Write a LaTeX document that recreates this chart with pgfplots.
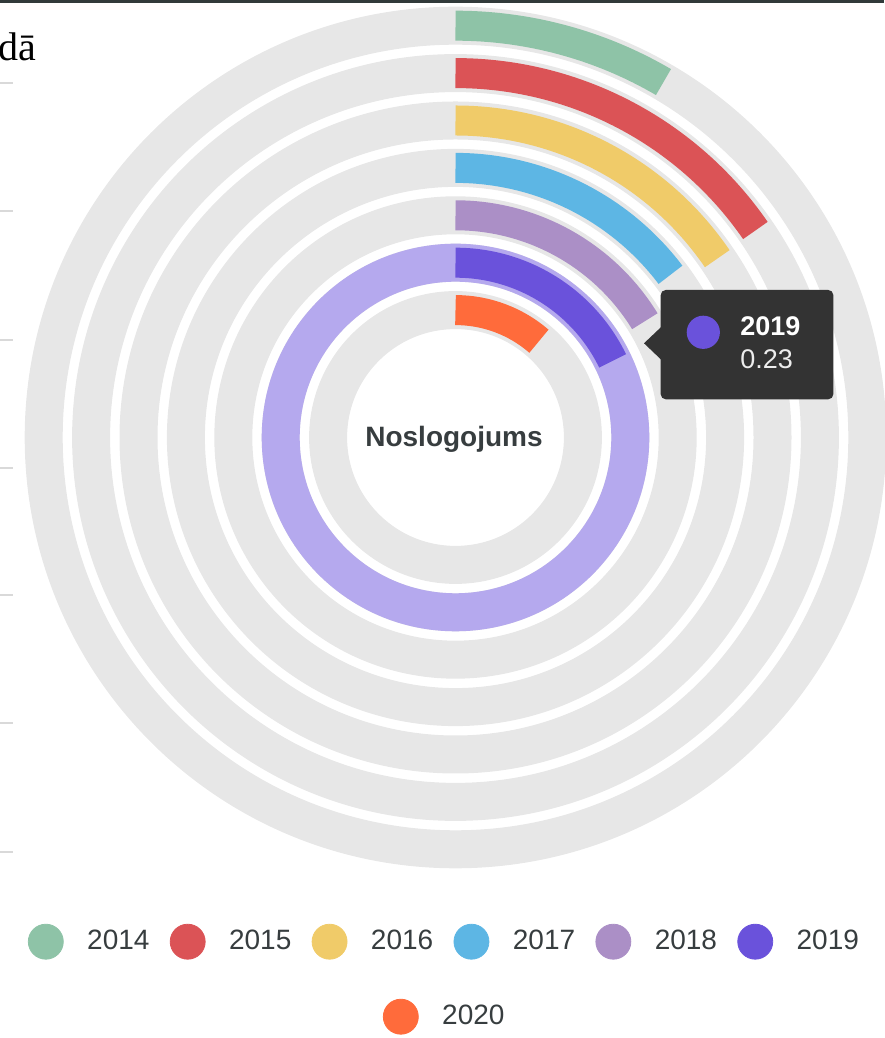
\documentclass[border=0pt]{standalone}
\usepackage{pgfplots}
\pgfplotsset{compat=1.18}
\usepackage{pgfplotstable}
\usepackage{fontspec}
\setmainfont{Liberation Sans}
\newfontfamily\seriffont{Liberation Serif}

\definecolor{c2014}{HTML}{8EC3A7}
\definecolor{c2015}{HTML}{DB5356}
\definecolor{c2016}{HTML}{F0CB69}
\definecolor{c2017}{HTML}{5DB6E4}
\definecolor{c2018}{HTML}{AB8FC6}
\definecolor{c2019}{HTML}{6A52DB}
\definecolor{c2020}{HTML}{FF6B3B}
\definecolor{trackgrey}{HTML}{E7E7E7}
\definecolor{hilite}{HTML}{B5A9EE}
\definecolor{tipbg}{HTML}{333333}
\definecolor{topbar}{HTML}{313A3A}
\definecolor{txt}{HTML}{373D3F}
\definecolor{tickgrey}{HTML}{D9D9D9}

\pgfdeclareplotmark{blank}{}

% degrees of sweep per unit of value (0.23 -> about 64 degrees)
\newcommand\degunit{278.3}

% ring radius in px (centre of band), value
\pgfplotstableread{
year x r v
2014 0 411.8 0.109
2015 0 364.4 0.199
2016 0 317.0 0.200
2017 0 269.6 0.190
2018 0 222.2 0.210
2019 0 174.8 0.230
2020 0 127.4 0.147
}\rings

\pgfplotsset{
  radial/.style n args={3}{scatter, only marks, mark=blank,
    point meta=explicit symbolic,
    visualization depends on={rawy\as\rr},
    scatter/@pre marker code/.code={\draw[draw=#1, line width=#2, line cap=butt]
      (0pt,0pt) arc[start angle=90, delta angle=#3, radius=0.5pt*\rr];},
    scatter/@post marker code/.code={}},
  track/.style={radial={#1}{19pt}{-360}, forget plot},
  bar/.style={radial={#1}{15pt}{-\pgfplotspointmeta*\degunit},
    legend image code/.code={\fill[#1] (8.75pt,0pt) circle[radius=8.75pt];}},
  frame/.style={x=0.5pt, y=0.5pt, xmin=-455.5, xmax=428.5, ymin=-600.5, ymax=437.5,
    hide axis, clip=false},
  legbox/.style={legend cell align=left,
    legend style={at={#1}, anchor=west, draw=none, fill=none, inner sep=0pt,
      font=\fontsize{14}{16}\selectfont, text=txt, nodes={inner sep=0pt},
      /tikz/every odd column/.append style={column sep=11.75pt},
      /tikz/every even column/.append style={column sep=10.15pt}}},
}

\begin{document}
\begin{tikzpicture}
\begin{axis}[name=main, frame, legbox={(axis cs:-428,-504.2)}, legend columns=6]
\addplot[track=trackgrey] table[x=x, y=r, meta=v] {\rings};
\addplot[track=hilite, skip coords between index={0}{5}, skip coords between index={6}{7}] table[x=x, y=r, meta=v] {\rings};

\addplot[bar=c2014, skip coords between index={1}{7}] table[x=x, y=r, meta=v] {\rings};
\addlegendentry{2014}
\addplot[bar=c2015, skip coords between index={0}{1}, skip coords between index={2}{7}] table[x=x, y=r, meta=v] {\rings};
\addlegendentry{2015}
\addplot[bar=c2016, skip coords between index={0}{2}, skip coords between index={3}{7}] table[x=x, y=r, meta=v] {\rings};
\addlegendentry{2016}
\addplot[bar=c2017, skip coords between index={0}{3}, skip coords between index={4}{7}] table[x=x, y=r, meta=v] {\rings};
\addlegendentry{2017}
\addplot[bar=c2018, skip coords between index={0}{4}, skip coords between index={5}{7}] table[x=x, y=r, meta=v] {\rings};
\addlegendentry{2018}
\addplot[bar=c2019, skip coords between index={0}{5}, skip coords between index={6}{7}] table[x=x, y=r, meta=v] {\rings};
\addlegendentry{2019}
\addplot[bar=c2020, skip coords between index={0}{6}, forget plot] table[x=x, y=r, meta=v] {\rings};

% page decorations
\fill[topbar] (axis cs:-455.5,434) rectangle (axis cs:428.5,437.5);
\pgfplotsinvokeforeach{354.5,226.5,97.5,-30.5,-157.5,-285.5,-414.5}{
  \draw[tickgrey, line width=1pt] (axis cs:-455.5,#1) -- (axis cs:-442.2,#1);}
\node[anchor=base east, inner sep=0pt, font=\seriffont\fontsize{20}{24}\selectfont]
  at (axis cs:-418.5,376.5) {dā};

\node[anchor=base, inner sep=0pt, text=txt, font=\bfseries\fontsize{14}{16}\selectfont]
  at (axis cs:-1.5,-9.2) {Noslogojums};
\end{axis}

% second layer: 2020 legend row and the tooltip, drawn above the rings
\begin{axis}[frame, legbox={(axis cs:-73,-579.2)}]
\addplot[draw=none, forget plot] coordinates {(0,0)};
\addlegendimage{legend image code/.code={\fill[c2020] (8.75pt,0pt) circle[radius=8.75pt];}}
\addlegendentry{2020}

\fill[tipbg, rounded corners=2.5pt] (axis cs:205.2,38.2) rectangle (axis cs:377.8,147.5);
\fill[tipbg] (axis cs:188.5,94.2) -- (axis cs:206,110.8) -- (axis cs:206,77.5) -- cycle;
\fill[c2019] (axis cs:247.8,105.2) circle[radius=8.3pt];
\node[anchor=base west, inner sep=0pt, text=white, font=\bfseries\fontsize{13.5}{16}\selectfont]
  at (axis cs:284.5,101.5) {2019};
\node[anchor=base west, inner sep=0pt, text=white!93!black, font=\fontsize{13.5}{16}\selectfont]
  at (axis cs:284.5,69.2) {0.23};
\end{axis}

\pgfresetboundingbox
\path[use as bounding box] (main.south west) rectangle (main.north east);
\end{tikzpicture}
\end{document}
